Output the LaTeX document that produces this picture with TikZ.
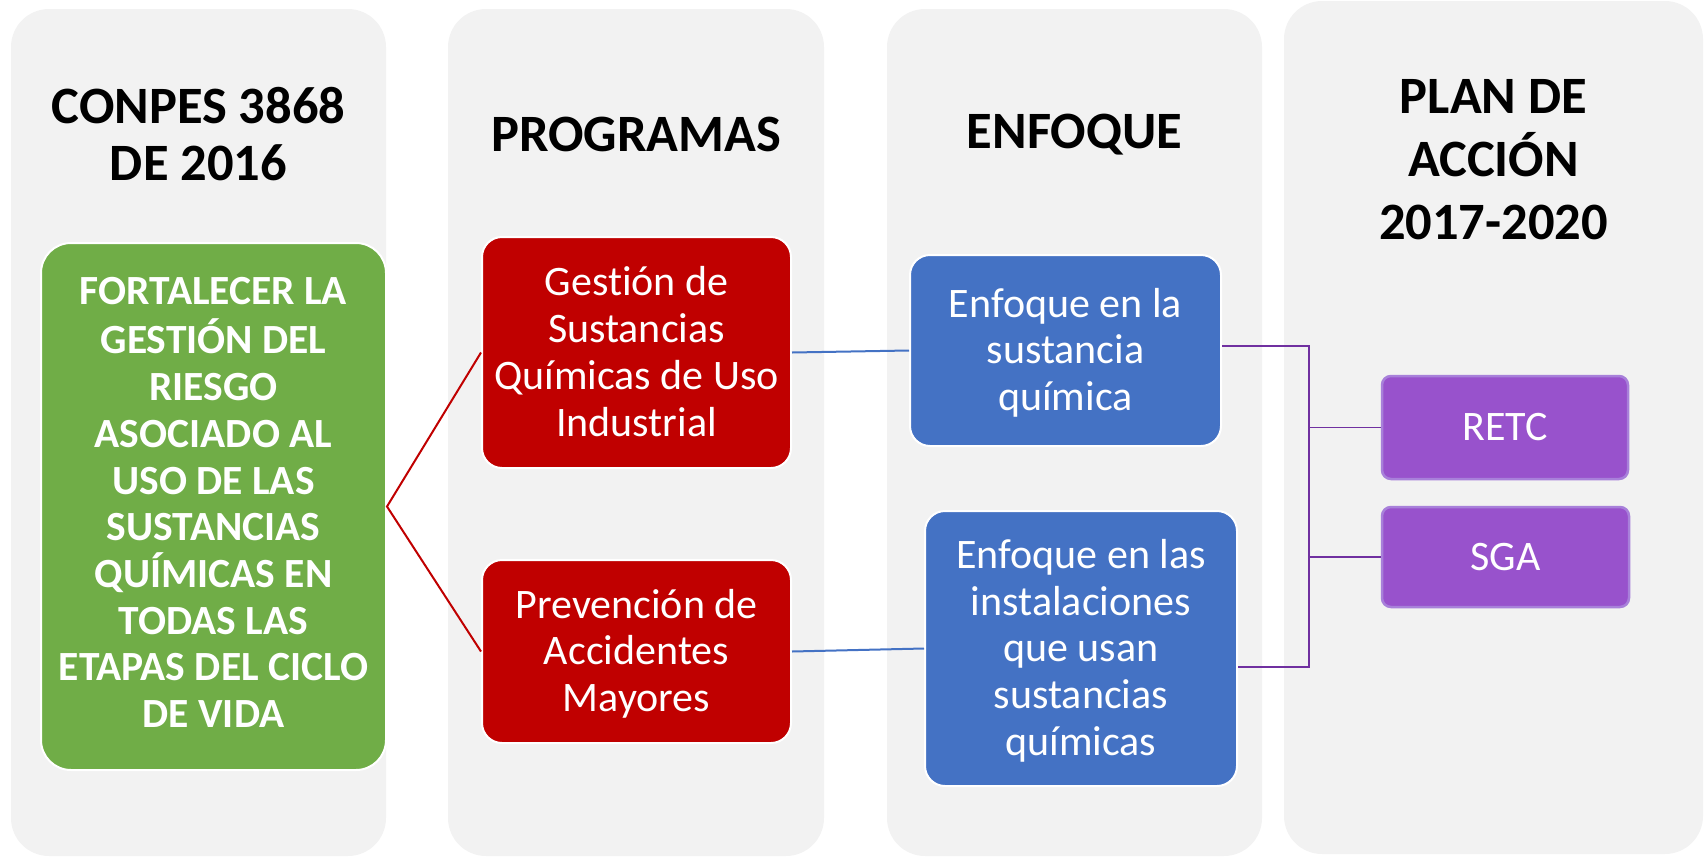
\documentclass[tikz,border=0pt]{standalone}
\usepackage{fontspec}
\setmainfont{Carlito}[Ligatures=NoCommon]

\definecolor{fondo}{HTML}{F2F2F2}
\definecolor{verde}{HTML}{70AD47}
\definecolor{rojo}{HTML}{C00000}
\definecolor{azul}{HTML}{4472C4}
\definecolor{morado}{HTML}{9852CC}
\definecolor{moradoborde}{HTML}{A880DA}
\definecolor{moradolinea}{HTML}{7030A0}

\newcommand\puntal{\rule[-10pt]{0pt}{46.8pt}}

\tikzset{
  columna/.style={fill=fondo, rounded corners=38pt},
  titulo/.style={align=center, font=\fontsize{52.5}{57}\selectfont\bfseries},
  caja/.style={draw=white, line width=2pt, text=white, align=center, inner sep=0pt,
    font=\fontsize{42}{46.8}\selectfont},
  meta/.style={caja, fill=verde, rounded corners=30pt, font=\fontsize{41.5}{46.7}\selectfont\bfseries},
  programa/.style={caja, fill=rojo, rounded corners=20pt},
  enfoque/.style={caja, fill=azul, rounded corners=20pt},
  accion/.style={caja, fill=morado, draw=moradoborde, line width=2.5pt, rounded corners=9pt},
  linearoja/.style={draw=rojo, line width=2pt},
  lineaazul/.style={draw=azul, line width=2pt},
  lineamorada/.style={draw=moradolinea, line width=1.5pt}
}

\begin{document}
\begin{tikzpicture}[x=1pt, y=-1pt]
\useasboundingbox (0,0) rectangle (1706,857);

%Columnas
\fill[columna] (11,9) rectangle (386,856);
\fill[columna] (448,9) rectangle (824,856);
\fill[columna] (887,9) rectangle (1262,856);
\fill[columna] (1284,1) rectangle (1703,854);

%Titulos
\node[titulo] (t1) at (198.5,134.4) {CONPES 3868\\DE 2016};
\node[titulo] (t2) at (636,134.4) {PROGRAMAS};
\node[titulo] (t3) at (1074.5,134.4) {ENFOQUE};
\node[titulo, font=\fontsize{52.5}{63}\selectfont\bfseries] (t4) at (1493.5,160) {PLAN DE\\ACCIÓN\\2017-2020};

%Cajas
\node[meta, minimum width=345pt, minimum height=527pt] (objetivo) at (213.5,506.5)
  {\strut FORTALECER LA\\GESTIÓN DEL\\RIESGO\\ASOCIADO AL\\USO DE LAS\\SUSTANCIAS\\QUÍMICAS EN\\TODAS LAS\\ETAPAS DEL CICLO\\DE VIDA\strut};
\node[programa, minimum width=309pt, minimum height=231pt] (prog1) at (636.5,352.5)
  {\puntal Gestión de\\Sustancias\\Químicas de Uso\\Industrial\puntal};
\node[programa, minimum width=309pt, minimum height=183pt] (prog2) at (636.5,651.5)
  {\puntal Prevención de\\Accidentes\\Mayores\puntal};
\node[enfoque, minimum width=311pt, minimum height=191pt] (enf1) at (1065.5,350.5)
  {\puntal Enfoque en la\\sustancia\\química\puntal};
\node[enfoque, minimum width=312pt, minimum height=275pt] (enf2) at (1081,648.5)
  {\puntal Enfoque en las\\instalaciones\\que usan\\sustancias\\químicas\puntal};
\node[accion, minimum width=246pt, minimum height=103pt] (retc) at (1505,427.5) {RETC};
\node[accion, minimum width=247pt, minimum height=100pt] (sga) at (1505.5,557) {SGA};

%Conectores
\draw[linearoja] (prog1.west) -- (objetivo.east) -- (prog2.west);
\draw[lineaazul] (prog1.east) -- (enf1.west);
\draw[lineaazul] (prog2.east) -- (enf2.west);
\coordinate (bus) at (1309,500);
\draw[lineamorada] ([yshift=4.5pt]enf1.east) -| (bus) |- ([yshift=-18.5pt]enf2.east);
\draw[lineamorada] (bus |- retc.west) -- (retc.west);
\draw[lineamorada] (bus |- sga.west) -- (sga.west);

\end{tikzpicture}
\end{document}
